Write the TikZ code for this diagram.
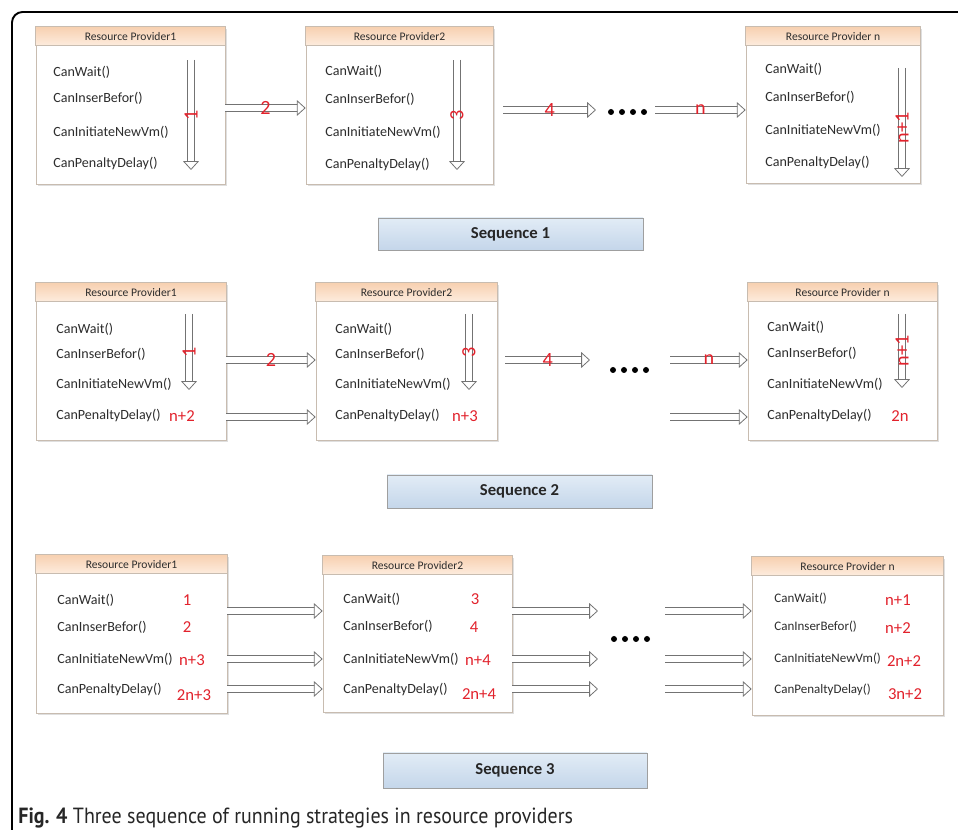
\documentclass[tikz,border=0pt]{standalone}
\usepackage{fontspec}
\setmainfont{Carlito}
\newfontfamily\capfont{PT Sans}
\usetikzlibrary{arrows.meta,fit,shadows,decorations.markings}

\definecolor{boxline}{RGB}{200,188,176}
\definecolor{headtop}{RGB}{247,208,176}
\definecolor{headbot}{RGB}{253,236,222}
\definecolor{seqtop}{RGB}{226,236,246}
\definecolor{seqbot}{RGB}{196,214,234}
\definecolor{numred}{RGB}{226,34,44}
\definecolor{arrgray}{RGB}{115,115,115}
\definecolor{fntext}{RGB}{45,45,45}

\tikzset{
  rpbox/.style={draw=boxline, fill=white, inner sep=0pt,
    drop shadow={shadow xshift=1pt, shadow yshift=-1pt, opacity=.25, fill=gray}},
  rphead/.style={draw=boxline, top color=headtop, bottom color=headbot, inner sep=0pt},
  hdr/.style={font=\fontsize{6.6}{8}\selectfont, text=fntext, inner sep=0pt},
  fn/.style={anchor=west, font=\fontsize{8}{10}\selectfont, text=fntext, inner sep=0pt},
  fnsm/.style={fn, font=\fontsize{7.4}{9}\selectfont},
  num/.style={text=numred, font=\fontsize{9.5}{11}\selectfont, inner sep=0pt},
  lbl/.style={text=numred, font=\fontsize{11.5}{13}\selectfont, inner sep=0pt},
  rlbl/.style={lbl, rotate=90},
  seqbox/.style={draw=gray!75, top color=seqtop, bottom color=seqbot, inner sep=0pt},
  seqtxt/.style={font=\bfseries\fontsize{9.5}{11}\selectfont, text=black!85, inner sep=0pt},
  hollow/.style={draw=arrgray, line width=0.45pt, double=white, double distance=3.2pt,
    shorten >=3.5pt,
    postaction={decorate, decoration={markings, mark=at position 1 with {
      \pgfsetinnerlinewidth{0pt}
      \arrow[draw=arrgray, line width=0.45pt]{Triangle[open, fill=white, length=5pt, width=9pt]}}}}}
}

% box with peach title band
\newcommand{\rpbox}[6]{%
  \node[rpbox, fit={(#2,#3)(#4,#5)}] (#1) {};
  \node[rphead, fit={(#1.north west)([yshift=-0.38cm]#1.north east)}] (#1h) {};
  \node[hdr] (#1t) at (#1h.center) {#6};
}
% the four method names
\newcommand{\fnrows}[7]{%
  \node[#2] (#1f1) at (#3,#4) {CanWait()};
  \node[#2] (#1f2) at (#3,#5) {CanInserBefor()};
  \node[#2] (#1f3) at (#3,#6) {CanInitiateNewVm()};
  \node[#2] (#1f4) at (#3,#7) {CanPenaltyDelay()};
}

\begin{document}
\begin{tikzpicture}[x=0.02cm, y=-0.02cm]
\useasboundingbox (0,0) rectangle (958,830);

\draw[line width=1.1pt, rounded corners=6pt] (12,834) -- (12,12) -- (962,12);

% Sequence 1
\rpbox{a1}{36}{27}{225}{184}{Resource Provider1}
\rpbox{a2}{306}{27}{493}{184}{Resource Provider2}
\rpbox{a3}{746}{27}{920}{183}{Resource Provider n}
\fnrows{a1}{fn}{53}{72}{98}{132}{163}
\fnrows{a2}{fn}{325}{71}{99}{132}{164}
\fnrows{a3}{fn}{765}{69}{97}{130}{162}

\draw[hollow] (191,60) -- (191,170) node[midway, rlbl] (a1n) {1};
\draw[hollow] (457,60) -- (457,170) node[midway, rlbl] (a2n) {3};
\draw[hollow] (902,68) -- (902,177) node[pos=.55, rlbl] (a3n) {n+1};

\coordinate (d1a) at (596,110);
\coordinate (d1b) at (655,110);
\draw[hollow] (a1.east |- 0,108) -- (a2.west |- 0,108) node[midway, lbl] (l12) {2};
\draw[hollow] ([xshift=0.2cm]a2.east |- 0,110) -- (d1a) node[midway, lbl] (l14) {4};
\draw[hollow] (d1b) -- (a3.west |- 0,110) node[midway, lbl] (l1n) {n};
\foreach \k in {0,...,3}
  \fill (611+\k*11,112) circle (0.06cm);

\node[seqbox, fit={(378,218)(643,250)}] (s1) {};
\node[seqtxt] (s1t) at (s1.center) {Sequence 1};

% Sequence 2
\rpbox{b1}{36}{283}{226}{440}{Resource Provider1}
\rpbox{b2}{316}{283}{497}{440}{Resource Provider2}
\rpbox{b3}{748}{283}{937}{440}{Resource Provider n}
\fnrows{b1}{fn}{56}{329}{354}{384}{415}
\fnrows{b2}{fn}{335}{329}{354}{384}{415}
\fnrows{b3}{fn}{767}{327}{353}{384}{415}

\draw[hollow] (189,314) -- (189,390) node[midway, rlbl] (b1n) {1};
\draw[hollow] (469,314) -- (469,390) node[midway, rlbl] (b2n) {3};
\draw[hollow] (902,314) -- (902,388) node[midway, rlbl] (b3n) {n+1};
\node[num] (b1p) at (182,416) {n+2};
\node[num] (b2p) at (465,416) {n+3};
\node[num] (b3p) at (900,416) {2n};

\coordinate (d2a) at (590,360);
\coordinate (d2b) at (670,360);
\coordinate (d2c) at (670,417);
\draw[hollow] (b1.east |- 0,360) -- (b2.west |- 0,360) node[midway, lbl] (l22) {2};
\draw[hollow] (b1.east |- 0,417) -- (b2.west |- 0,417);
\draw[hollow] ([xshift=0.16cm]b2.east |- 0,360) -- (d2a) node[midway, lbl] (l24) {4};
\draw[hollow] (d2b) -- (b3.west |- 0,360) node[midway, lbl] (l2n) {n};
\draw[hollow] (d2c) -- (b3.west |- 0,417);
\foreach \k in {0,...,3}
  \fill (613+\k*11,370) circle (0.06cm);

\node[seqbox, fit={(387,475)(652,508)}] (s2) {};
\node[seqtxt] (s2t) at (s2.center) {Sequence 2};

% Sequence 3
\rpbox{c1}{36}{555}{227}{713}{Resource Provider1}
\rpbox{c2}{323}{556}{512}{712}{Resource Provider2}
\rpbox{c3}{752}{557}{943}{715}{Resource Provider n}
\fnrows{c1}{fn}{57}{600}{627}{659}{689}
\fnrows{c2}{fn}{343}{599}{626}{659}{689}
\fnrows{c3}{fnsm}{774}{599}{627}{659}{690}

\node[num] (c1n1) at (187,600) {1};
\node[num] (c1n2) at (187,627) {2};
\node[num] (c1n3) at (192,660) {n+3};
\node[num] (c1n4) at (194,695) {2n+3};
\node[num] (c2n1) at (475,599) {3};
\node[num] (c2n2) at (474,627) {4};
\node[num] (c2n3) at (478,660) {n+4};
\node[num] (c2n4) at (479,694) {2n+4};
\node[num] (c3n1) at (898,600) {n+1};
\node[num] (c3n2) at (898,628) {n+2};
\node[num] (c3n3) at (904,661) {2n+2};
\node[num] (c3n4) at (905,694) {3n+2};

\foreach \y [count=\i] in {611,659,689} {
  \coordinate (e\i a) at (598,\y);
  \coordinate (e\i b) at (665,\y);
  \draw[hollow] (c1.east |- 0,\y) -- (c2.west |- 0,\y);
  \draw[hollow] (c2.east |- 0,\y) -- (e\i a);
  \draw[hollow] (e\i b) -- (c3.west |- 0,\y);
}
\foreach \k in {0,...,3}
  \fill (614+\k*11,639) circle (0.06cm);

\node[seqbox, fit={(383,753)(647,788)}] (s3) {};
\node[seqtxt] (s3t) at (s3.center) {Sequence 3};

\node[anchor=base west, inner sep=0pt, text=black!85,
  font=\capfont\fontsize{12.5}{14}\selectfont] (cap) at (18,824)
  {\scalebox{0.91}[1]{\textbf{Fig. 4} Three sequence of running strategies in resource providers}};
\end{tikzpicture}
\end{document}
